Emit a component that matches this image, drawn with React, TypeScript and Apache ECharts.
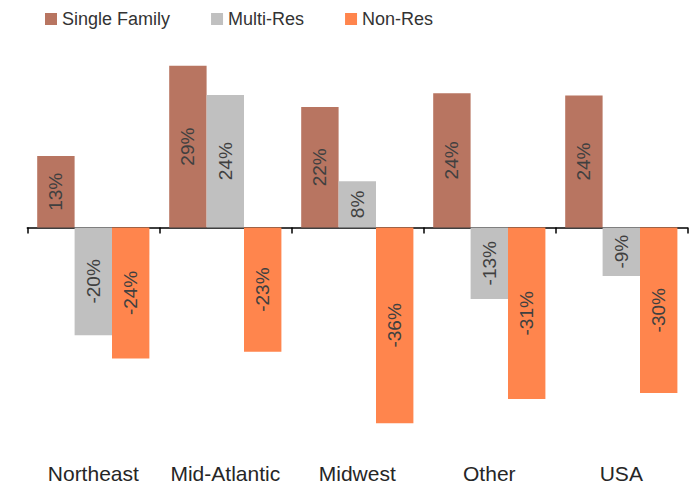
import React, { useEffect, useRef } from "react";
import * as echarts from "echarts";

const categories = ["Northeast", "Mid-Atlantic", "Midwest", "Other", "USA"];
const seriesNames = ["Single Family", "Multi-Res", "Non-Res"];
const singleFamily = [13.0, 29.4, 21.9, 24.4, 24.0];
const multiRes = [-19.6, 24.1, 8.4, -13.0, -8.8];
const nonRes = [-23.8, -22.6, -35.6, -31.2, -30.1];
const colors = ["#B87561", "#C0C0C0", "#FF854D"];

const FONT = "'Liberation Sans', Arial, Helvetica, sans-serif";

export default function App() {
  const ref = useRef<HTMLDivElement>(null);
  useEffect(() => {
    if (!ref.current) return;
    const chart = echarts.init(ref.current, null, { renderer: "svg" });
    const mk = (name: string, data: number[], color: string) => ({
      name,
      type: "bar",
      xAxisIndex: 0,
      yAxisIndex: 0,
      data,
      barGap: "0%",
      barCategoryGap: "15%",
      itemStyle: { color },
      label: {
        show: true,
        position: "inside",
        rotate: 90,
        fontSize: 19,
        fontFamily: FONT,
        color: "#404040",
        formatter: (p: any) => Math.round(p.value) + "%",
      },
    });
    chart.setOption({
      animation: false,
      color: colors,
      legend: {
        left: 45,
        top: 10,
        padding: 0,
        itemWidth: 12,
        itemHeight: 12,
        itemGap: 41,
        icon: "rect",
        data: seriesNames,
        textStyle: { fontSize: 18, fontFamily: FONT, color: "#333" },
      },
      grid: { left: 27.3, right: 4.7, top: 35, bottom: 37.5, containLabel: false },
      xAxis: [
        {
          type: "category",
          data: categories,
          position: "bottom",
          axisLine: { onZero: true, lineStyle: { color: "#000", width: 1.5 } },
          axisTick: { show: true, length: 6, lineStyle: { color: "#000", width: 1.5 } },
          axisLabel: { show: false },
        },
        {
          type: "category",
          data: categories,
          position: "bottom",
          axisLine: { show: false },
          axisTick: { show: false },
          axisLabel: {
            show: true,
            interval: 0,
            margin: 15,
            fontSize: 21,
            fontFamily: FONT,
            color: "#262626",
          },
        },
      ],
      yAxis: {
        type: "value",
        min: -40,
        max: 35,
        show: false,
        splitLine: { show: false },
      },
      series: [
        mk(seriesNames[0], singleFamily, colors[0]),
        mk(seriesNames[1], multiRes, colors[1]),
        mk(seriesNames[2], nonRes, colors[2]),
      ],
    });
    return () => chart.dispose();
  }, []);
  return (
    <div
      ref={ref}
      style={{ position: "fixed", left: 0, top: 0, width: 692, height: 485, background: "#fff" }}
    />
  );
}
